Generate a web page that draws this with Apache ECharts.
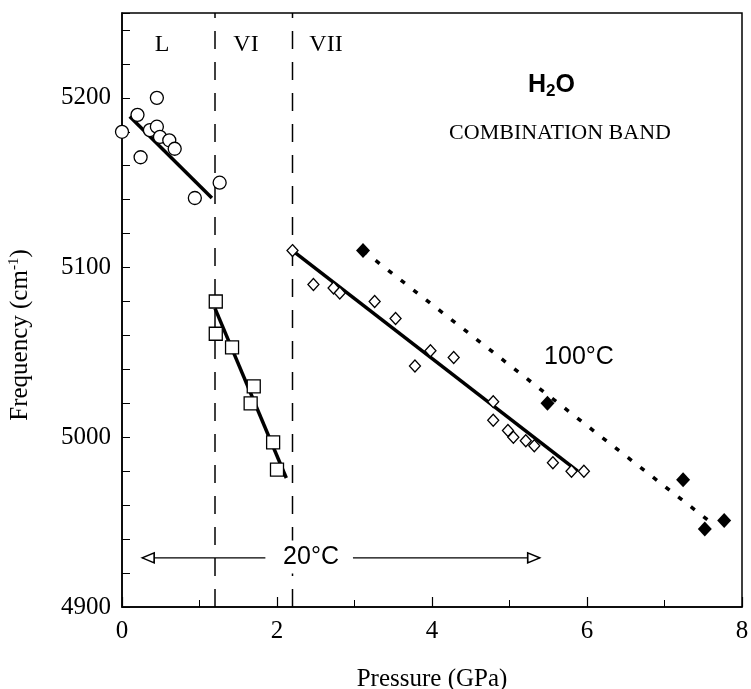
<!DOCTYPE html>
<html>
<head>
<meta charset="utf-8">
<title>H2O combination band</title>
<script src="https://cdn.jsdelivr.net/npm/echarts@6/dist/echarts.min.js"></script>
<style>
  html, body { margin: 0; padding: 0; background: #fff; }
  #chart { width: 751px; height: 689px; }
</style>
</head>
<body>
<div id="chart"></div>
<script>
// liquid water, L phase (open circles) + its fit
var liquidPts = [[0, 5180], [0.2, 5190], [0.24, 5165], [0.36, 5181], [0.45, 5200], [0.45, 5183],
  [0.49, 5177], [0.61, 5175], [0.68, 5170], [0.94, 5141], [1.26, 5150]];
var liquidFit = [[0.1, 5189], [1.16, 5141]];

// ice VI (open squares)
var ice6Pts = [[1.21, 5080], [1.21, 5061], [1.42, 5053], [1.70, 5030], [1.66, 5020], [1.95, 4997], [2.0, 4981]];
var ice6Fit = [[1.2, 5076], [2.12, 4976]];

// ice VII at 20°C (open diamonds)
var ice7Pts = [[2.2, 5110], [2.47, 5090], [2.73, 5088], [2.81, 5085], [3.26, 5080], [3.53, 5070],
  [3.78, 5042], [3.98, 5051], [4.28, 5047], [4.79, 5021], [4.79, 5010], [4.98, 5004], [5.05, 5000],
  [5.21, 4998], [5.32, 4995], [5.56, 4985], [5.80, 4980], [5.96, 4980]];
var ice7Fit = [[2.2, 5110], [5.88, 4980]];

// ice VII at 100°C (filled diamonds), dotted fit
var hotPts = [[3.11, 5110], [5.49, 5020], [7.24, 4975], [7.52, 4946], [7.77, 4951]];
var hotFit = [[3.11, 5110], [7.65, 4948]];

// phase boundaries (GPa)
var boundaries = [1.2, 2.2];

// 20°C range arrow
var arrowY = 4929;
var arrowLeft = [0.26, 1.85];
var arrowRight = [2.98, 5.39];

// axes
var xMin = 0, xMax = 8, xStep = 2;
var yMin = 4900, yMax = 5250, yTickStep = 20, yLabelStep = 100;

var serif = "'Liberation Serif', 'DejaVu Serif', serif";
var sans = "'Liberation Sans', Arial, sans-serif";

var chart = echarts.init(document.getElementById('chart'));

function fitLine(data, dash, width) {
  return {
    type: 'line',
    data: data,
    symbol: 'none',
    silent: true,
    z: 3,
    lineStyle: { color: '#000', width: width, type: dash, cap: 'butt' }
  };
}

function openMarks(data, symbol, size) {
  return {
    type: 'scatter',
    data: data,
    symbol: symbol,
    symbolSize: size,
    z: 4,
    itemStyle: { color: '#fff', borderColor: '#000', borderWidth: 1.3, opacity: 1 }
  };
}

var series = [];
// vertical dashed boundaries
boundaries.forEach(function (p) {
  series.push(fitLine([[p, yMin], [p, yMax]], [18, 13], 1.5));
});
series.push(fitLine(liquidFit, 'solid', 3.5));
series.push(fitLine(ice6Fit, 'solid', 3.5));
series.push(fitLine(ice7Fit, 'solid', 3.5));
series.push(fitLine(hotFit, [5, 11], 3.5));
series.push(openMarks(liquidPts, 'circle', 13));
series.push(openMarks(ice6Pts, 'rect', 13));
series.push(openMarks(ice7Pts, 'diamond', [11, 12]));
series.push({
  type: 'scatter',
  data: hotPts,
  symbol: 'diamond',
  symbolSize: [14, 15],
  z: 4,
  itemStyle: { color: '#000', opacity: 1 }
});

// 20°C arrow: two segments with open triangle heads
function arrowPart(from, to, headAtStart) {
  var head = {
    symbol: 'triangle',
    symbolSize: [10, 12],
    symbolRotate: headAtStart ? 90 : -90,
    symbolOffset: [headAtStart ? 6 : -6, 0]
  };
  var a = { value: [from, arrowY], symbol: 'none' };
  var b = { value: [to, arrowY], symbol: 'none' };
  if (headAtStart) Object.assign(a, head); else Object.assign(b, head);
  return {
    type: 'line',
    data: [a, b],
    showSymbol: true,
    z: 3,
    lineStyle: { color: '#000', width: 1.2 },
    itemStyle: { color: '#fff', borderColor: '#000', borderWidth: 1.5, opacity: 1 }
  };
}
series.push(arrowPart(arrowLeft[0], arrowLeft[1], true));
series.push(arrowPart(arrowRight[0], arrowRight[1], false));

var option = {
  animation: false,
  backgroundColor: '#fff',
  grid: {
    left: 122, right: 9, top: 13, bottom: 82,
    outerBoundsMode: 'none',
    containLabel: false,
    show: true, borderColor: '#000', borderWidth: 1.5, backgroundColor: 'transparent'
  },
  xAxis: {
    type: 'value',
    min: xMin, max: xMax, interval: xStep,
    name: 'Pressure (GPa)',
    nameLocation: 'middle',
    nameGap: 60,
    nameTextStyle: { fontFamily: serif, fontSize: 25, color: '#000' },
    axisLine: { lineStyle: { color: '#000', width: 1.5 } },
    axisTick: { inside: true, length: 10, lineStyle: { color: '#000', width: 1.2 } },
    minorTick: { show: true, splitNumber: 2, length: 7, lineStyle: { color: '#000', width: 1 } },
    axisLabel: { fontFamily: serif, fontSize: 25, color: '#000', margin: 12 },
    splitLine: { show: false }
  },
  yAxis: {
    type: 'value',
    min: yMin, max: yMax, interval: yTickStep,
    name: '{n|Frequency (cm}{s|-1}{n|)}',
    nameLocation: 'middle',
    nameGap: 88,
    nameTextStyle: {
      color: '#000',
      padding: [0, 50, 0, 0],
      rich: {
        n: { fontFamily: serif, fontSize: 25, color: '#000' },
        s: { fontFamily: serif, fontSize: 15, color: '#000', padding: [0, 0, 12, 0] }
      }
    },
    axisLine: { lineStyle: { color: '#000', width: 1.5 } },
    axisTick: { inside: true, length: 8, lineStyle: { color: '#000', width: 1 } },
    axisLabel: {
      fontFamily: serif, fontSize: 25, color: '#000', margin: 11,
      formatter: function (v) { return v % yLabelStep === 0 ? String(v) : ''; }
    },
    splitLine: { show: false }
  },
  graphic: [
    { type: 'text', x: 162, y: 45, z: 10, style: { text: 'L', font: '24px ' + serif, fill: '#000', align: 'center', verticalAlign: 'middle' } },
    { type: 'text', x: 246, y: 45, z: 10, style: { text: 'VI', font: '24px ' + serif, fill: '#000', align: 'center', verticalAlign: 'middle' } },
    { type: 'text', x: 326, y: 45, z: 10, style: { text: 'VII', font: '24px ' + serif, fill: '#000', align: 'center', verticalAlign: 'middle' } },
    {
      type: 'text', x: 528, y: 85, z: 10,
      style: {
        text: '{h|H}{s|2}{h|O}', fill: '#000', align: 'left', verticalAlign: 'middle',
        rich: {
          h: { font: 'bold 25px ' + sans, fill: '#000' },
          s: { font: 'bold 17px ' + sans, fill: '#000', padding: [12, 0, 0, 0] }
        }
      }
    },
    { type: 'text', x: 560, y: 133, z: 10, style: { text: 'COMBINATION BAND', font: '22px ' + serif, fill: '#000', align: 'center', verticalAlign: 'middle' } },
    { type: 'text', x: 579, y: 357, z: 10, style: { text: '100°C', font: '25px ' + sans, fill: '#000', align: 'center', verticalAlign: 'middle' } },
    {
      type: 'text', x: 311, y: 557, z: 10,
      style: {
        text: '20°C', font: '25px ' + sans, fill: '#000', align: 'center', verticalAlign: 'middle',
        backgroundColor: '#fff', padding: [4, 2, 4, 2]
      }
    }
  ],
  series: series
};

chart.setOption(option);
</script>
</body>
</html>
